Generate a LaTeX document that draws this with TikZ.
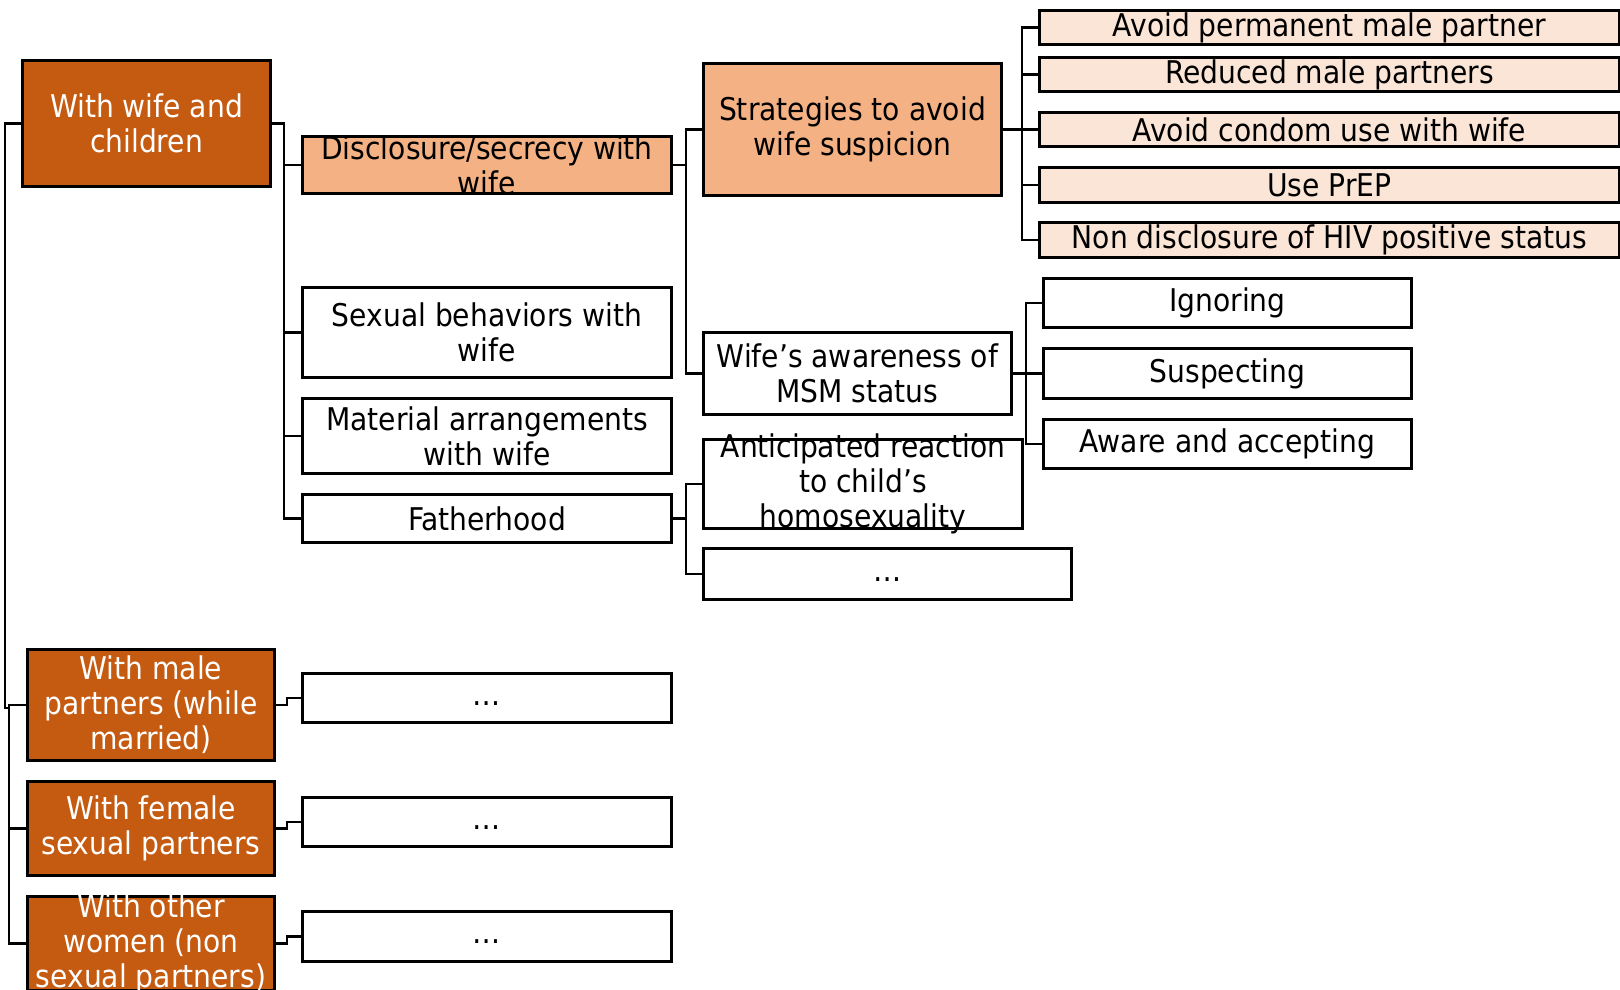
\documentclass[tikz,border=0pt]{standalone}
\usepackage{fontspec}
\setmainfont{DejaVu Sans Condensed}
\definecolor{darkor}{RGB}{197,90,17}
\definecolor{midor}{RGB}{244,177,131}
\definecolor{lightor}{RGB}{251,229,214}
\tikzset{
  boxbase/.style={draw=black, line width=3pt, rectangle, inner sep=0pt, anchor=north west},
  darkbox/.style={boxbase, fill=darkor},
  midbox/.style={boxbase, fill=midor},
  lightbox/.style={boxbase, fill=lightor},
  whitebox/.style={boxbase, fill=white},
  txt/.style={align=center, inner sep=0pt, font=\fontsize{31.3}{35}\selectfont},
  wtxt/.style={txt, text=white},
  conn/.style={draw=black, line width=2.8pt}
}
% name, style, x1, y1, w, h, text-style, text
\newcommand\mybox[8]{%
  \node[#2, minimum width=#5pt, minimum height=#6pt] (#1) at (#3,#4) {};
  \node[#7] (#1-t) at (#1.center) {#8};
}
\begin{document}
\begin{tikzpicture}[x=1pt,y=-1pt]
\useasboundingbox (0,0) rectangle (1620,990);
% level 1
\mybox{wife}{darkbox}{21}{59}{248}{126}{wtxt}{With wife and\\children}
\mybox{male}{darkbox}{26}{648}{247}{111}{wtxt}{With male\\partners (while\\married)}
\mybox{fem}{darkbox}{26}{780}{247}{94}{wtxt}{With female\\sexual partners}
\mybox{oth}{darkbox}{26}{895}{247}{94}{wtxt}{With other\\women (non\\sexual partners)}
% level 2
\mybox{disc}{midbox}{301}{135}{369}{57}{txt}{Disclosure/secrecy with\\wife}
\mybox{sexb}{whitebox}{301}{286}{369}{90}{txt}{Sexual behaviors with\\wife}
\mybox{matr}{whitebox}{301}{397}{369}{75}{txt}{Material arrangements\\with wife}
\mybox{fath}{whitebox}{301}{493}{369}{48}{txt}{Fatherhood}
\mybox{d2}{whitebox}{301}{672}{369}{49}{txt}{\strut…}
\mybox{d3}{whitebox}{301}{796}{369}{49}{txt}{\strut…}
\mybox{d4}{whitebox}{301}{910}{369}{50}{txt}{\strut…}
% level 3
\mybox{strat}{midbox}{702}{62}{298}{132}{txt}{Strategies to avoid\\wife suspicion}
\mybox{aware}{whitebox}{702}{331}{308}{82}{txt}{Wife’s awareness of\\MSM status}
\mybox{antic}{whitebox}{702}{438}{319}{89}{txt}{Anticipated reaction\\to child’s\\homosexuality}
\mybox{d1}{whitebox}{702}{547}{368}{51}{txt}{\strut…}
% level 4
\mybox{s1}{lightbox}{1038}{9}{580}{34}{txt}{Avoid permanent male partner}
\mybox{s2}{lightbox}{1038}{56}{580}{34}{txt}{Reduced male partners}
\mybox{s3}{lightbox}{1038}{111}{580}{34}{txt}{Avoid condom use with wife}
\mybox{s4}{lightbox}{1038}{166}{580}{35}{txt}{Use PrEP}
\mybox{s5}{lightbox}{1038}{221}{580}{35}{txt}{Non disclosure of HIV positive status}
\mybox{ign}{whitebox}{1042}{277}{368}{49}{txt}{Ignoring}
\mybox{sus}{whitebox}{1042}{347}{368}{50}{txt}{Suspecting}
\mybox{acc}{whitebox}{1042}{418}{368}{49}{txt}{Aware and accepting}
% junction coordinates
\coordinate (r1) at (5,708);
\coordinate (r2) at (9,708);
\coordinate (j1) at (284,0);
\coordinate (j2) at (686,0);
\coordinate (j3) at (1022,0);
\coordinate (j4) at (1026,0);
% root bracket
\draw[conn] (wife.west) -| (r1) -- (r2);
\draw[conn] (male.west) -| (r2) |- (oth.west);
\draw[conn] (fem.west) -- (fem.west -| r2);
% wife -> level 2
\draw[conn] (wife.east) -| (j1 |- fath.west) -- (fath.west);
\draw[conn] (j1 |- disc.west) -- (disc.west);
\draw[conn] (j1 |- sexb.west) -- (sexb.west);
\draw[conn] (j1 |- matr.west) -- (matr.west);
% other level 1 -> dots
\draw[conn] (male.east) -- ++(11,0) |- (d2.west);
\draw[conn] (fem.east) -- ++(11,0) |- (d3.west);
\draw[conn] (oth.east) -- ++(11,0) |- (d4.west);
% disclosure -> level 3
\draw[conn] (disc.east) -- (disc.east -| j2);
\draw[conn] (strat.west) -| (j2 |- aware.west) -- (aware.west);
% fatherhood -> level 3
\draw[conn] (fath.east) -- (fath.east -| j2);
\draw[conn] (antic.west) -| (j2 |- d1.west) -- (d1.west);
% strategies -> level 4
\draw[conn] (strat.east) -- (strat.east -| j3);
\draw[conn] (s1.west) -| (j3 |- s5.west) -- (s5.west);
\draw[conn] (j3 |- s2.west) -- (s2.west);
\draw[conn] (j3 |- s3.west) -- (s3.west);
\draw[conn] (j3 |- s4.west) -- (s4.west);
% awareness -> level 4
\draw[conn] (aware.east) -- (aware.east -| j4);
\draw[conn] (ign.west) -| (j4 |- acc.west) -- (acc.west);
\draw[conn] (j4 |- sus.west) -- (sus.west);
\end{tikzpicture}
\end{document}
